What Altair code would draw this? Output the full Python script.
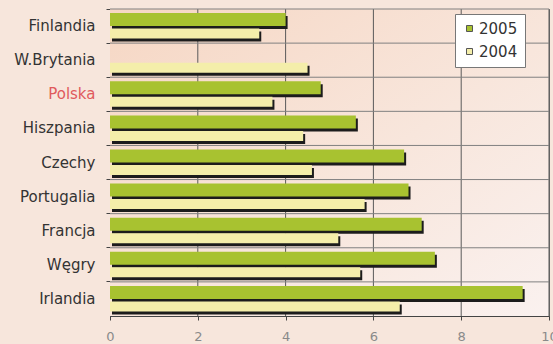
import altair as alt
import pandas as pd

# Countries, top to bottom
countries = ["Finlandia", "W.Brytania", "Polska", "Hiszpania", "Czechy",
             "Portugalia", "Francja", "Węgry", "Irlandia"]
values_2005 = [4.0, None, 4.8, 5.6, 6.7, 6.8, 7.1, 7.4, 9.4]
values_2004 = [3.4, 4.5, 3.7, 4.4, 4.6, 5.8, 5.2, 5.7, 6.6]
x_ticks = [0, 2, 4, 6, 8, 10]
grid_ticks = [2, 4, 6, 8, 10]

years = ["2005", "2004"]
colors = ["#a8c230", "#f4eeaa"]

rows = []
for c, a, b in zip(countries, values_2005, values_2004):
    if a is not None:
        rows.append({"kraj": c, "rok": "2005", "wartosc": a})
    rows.append({"kraj": c, "rok": "2004", "wartosc": b})
df = pd.DataFrame(rows)
df05 = df[df.rok == "2005"]
df04 = df[df.rok == "2004"]

W, H = 439, 307
FONT = "DejaVu Sans"
xscale = alt.Scale(domain=[0, 10], nice=False, zero=True)
yscale = alt.Scale(domain=countries, paddingInner=0, paddingOuter=0)

x_axis = alt.Axis(title=None, values=x_ticks, grid=False, format="d",
                  labelColor="#8a8a8a", labelFontSize=13, labelFont=FONT,
                  labelPadding=10, tickSize=4, tickColor="#444",
                  domainColor="#444", labelFlush=False)
y_axis = alt.Axis(title=None, grid=False, bandPosition=0, tickSize=4,
                  tickColor="#444", domainColor="#444",
                  labelFontSize=15, labelFont=FONT, labelPadding=11,
                  labelColor={"condition": {"test": "datum.value === 'Polska'",
                                            "value": "#e05a5c"},
                              "value": "#333333"})

x_enc = alt.X("wartosc:Q", scale=xscale, axis=x_axis)
y_enc = alt.Y("kraj:N", scale=yscale, sort=countries, axis=y_axis)

# plot-area background with a soft diagonal gradient
bg = alt.Chart(pd.DataFrame({"a": [0]})).mark_rect(
    color=alt.Gradient(
        gradient="linear", x1=0, y1=0, x2=1, y2=1,
        stops=[alt.GradientStop(color="#f6d7c4", offset=0),
               alt.GradientStop(color="#f8e6dc", offset=0.55),
               alt.GradientStop(color="#faf1ef", offset=1)])
).encode(x=alt.datum(0, scale=xscale, axis=x_axis), x2=alt.datum(10))

# grid lines
vgrid = alt.Chart(pd.DataFrame({"t": grid_ticks})).mark_rule(
    color="#5a5a5a", strokeWidth=1
).encode(x=alt.X("t:Q", scale=xscale, axis=x_axis))

hgrid = alt.Chart(pd.DataFrame({"kraj": countries})).mark_rule(
    color="#808080", strokeWidth=1
).encode(y=alt.Y("kraj:N", scale=yscale, axis=y_axis, sort=countries, bandPosition=0))

G_H, G_OFF = 13, -6.5
Y_H, Y_OFF = 10, 7.5
SHADOW = "#1c1c1c"

shadow05 = alt.Chart(df05).mark_bar(
    height=G_H, yOffset=G_OFF + 3, y2Offset=G_OFF + 3, xOffset=2, x2Offset=2, color=SHADOW
).encode(x=x_enc, y=y_enc)

shadow04 = alt.Chart(df04).mark_bar(
    height=Y_H, yOffset=Y_OFF + 3, y2Offset=Y_OFF + 3, xOffset=2, x2Offset=2, color=SHADOW
).encode(x=x_enc, y=y_enc)

color_enc = alt.Color(
    "rok:N",
    scale=alt.Scale(domain=years, range=colors),
    legend=alt.Legend(title=None, orient="none", legendX=345, legendY=5,
                      symbolType="square", symbolSize=36,
                      symbolStrokeColor="#555", symbolStrokeWidth=1,
                      labelFontSize=15, labelColor="#333", labelFont=FONT,
                      labelOffset=2, rowPadding=7, padding=7,
                      fillColor="white", strokeColor="#777"),
)

bars05 = alt.Chart(df05).mark_bar(height=G_H, yOffset=G_OFF, y2Offset=G_OFF).encode(
    x=x_enc, y=y_enc, color=color_enc,
)

bars04 = alt.Chart(df04).mark_bar(height=Y_H, yOffset=Y_OFF, y2Offset=Y_OFF).encode(
    x=x_enc, y=y_enc, color=color_enc,
)

chart = alt.layer(bg, vgrid, hgrid, shadow05, shadow04, bars05, bars04).properties(
    width=W, height=H,
    autosize=alt.AutoSizeParams(type="none"),
    padding={"left": 110, "top": 9, "right": 4, "bottom": 28},
    background="#f7e6dc",
).configure_view(stroke="#6a6a6a", strokeWidth=1)

chart.save("out.html", embed_options={"renderer": "svg", "actions": False})
